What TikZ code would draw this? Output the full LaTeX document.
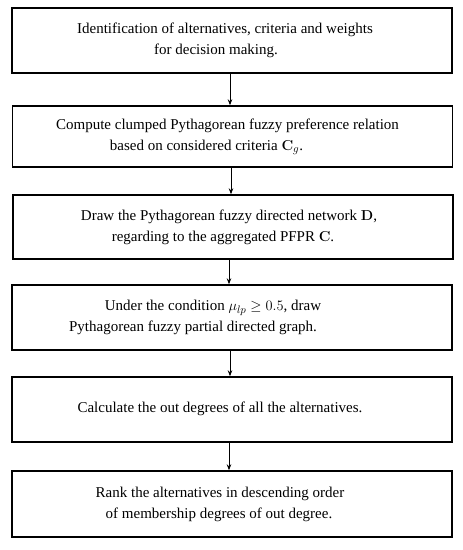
\documentclass[tikz,border=0pt]{standalone}
\usepackage[no-math]{fontspec}
\setmainfont{Liberation Serif}
\usetikzlibrary{arrows.meta}
\newcommand{\shline}[2]{\makebox[0pt][c]{\hspace*{#1}#2}}
\begin{document}
\begin{tikzpicture}[x=1pt,y=-1pt,
  stepbox/.style={draw,line width=1.4pt,minimum width=440pt,inner sep=0pt,align=center,
     font=\fontsize{15}{21}\selectfont},
  conn/.style={line width=0.8pt,-{Stealth[length=6pt,width=4.5pt]}}]
\useasboundingbox (0,0) rectangle (463,550);
\node[stepbox,minimum height=65pt] (b1) at (232,40.5)
  {\shline{-14pt}{Identification of alternatives, criteria and weights}\\
   \shline{-32pt}{for decision making.}};
\node[stepbox,minimum height=61pt] (b2) at (232.5,136.5)
  {\shline{-10pt}{Compute clumped Pythagorean fuzzy preference relation}\\
   \shline{-52pt}{based on considered criteria $\mathbf{C}_g$.}};
\node[stepbox,minimum height=64pt] (b3) at (233,227)
  {\shline{-8pt}{Draw the Pythagorean fuzzy directed network $\mathbf{D}$,}\\
   \shline{-20pt}{regarding to the aggregated PFPR $\mathbf{C}$.}};
\node[stepbox,minimum height=65pt] (b4) at (232,317.5)
  {\shline{-38pt}{Under the condition $\mu_{lp}\geq 0.5$, draw}\\
   \shline{-78pt}{Pythagorean fuzzy partial directed graph.}};
\node[stepbox,minimum height=65pt] (b5) at (232,409.5)
  {\raisebox{4pt}{\shline{-24pt}{Calculate the out degrees of all the alternatives.}}};
\node[stepbox,minimum height=66pt] (b6) at (232,504)
  {\shline{-24pt}{Rank the alternatives in descending order}\\
   \shline{-26pt}{of membership degrees of out degree.}};
\draw[conn] (b1.south -| 230,0) -- (b2.north -| 230,0);
\draw[conn] (b2.south -| 231,0) -- (b3.north -| 231,0);
\draw[conn] (b3.south -| 229,0) -- (b4.north -| 229,0);
\draw[conn] (b4.south -| 230,0) -- (b5.north -| 230,0);
\draw[conn] (b5.south -| 229,0) -- (b6.north -| 229,0);
\end{tikzpicture}
\end{document}
